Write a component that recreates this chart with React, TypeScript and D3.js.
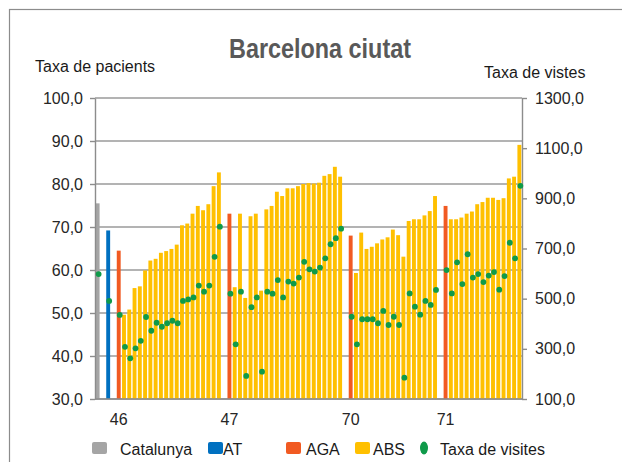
import React, { useEffect, useRef } from 'react';
import * as d3 from 'd3';

// values
const catalunyaValues = [75.5];
const catalunyaVisits = [598];
const atValues = [69.2];
const atVisits = [491];

const groupLabels = ['46', '47', '70', '71'];
const agaValues = [64.5, 73.1, 68.0, 74.9];
const agaVisits = [435, 520, 428, 614];

const absValues = [
  [49.6, 50.8, 55.8, 56.2, 59.9, 62.2, 62.6, 64.0, 64.4, 64.9, 65.9, 70.4, 70.8, 73.1, 74.9, 73.9, 75.3, 79.5, 82.7],
  [56.0, 73.1, 53.5, 72.5, 73.1, 55.2, 74.1, 74.9, 78.2, 77.2, 79.0, 79.0, 79.5, 80.0, 80.2, 80.1, 80.3, 81.9, 82.3, 84.0, 81.7],
  [59.3, 68.7, 64.9, 65.4, 66.2, 67.1, 67.6, 69.4, 68.1, 63.1, 71.4, 71.8, 71.8, 72.7, 73.7, 77.2],
  [71.8, 71.8, 72.2, 73.1, 73.6, 75.3, 75.8, 76.8, 76.8, 76.3, 76.7, 81.3, 81.7, 89.1],
];
const absVisits = [
  [308, 262, 302, 332, 427, 372, 404, 388, 402, 412, 402, 491, 497, 505, 552, 528, 552, 667, 787],
  [318, 528, 192, 466, 505, 209, 528, 520, 574, 505, 568, 560, 584, 647, 617, 608, 624, 661, 717, 741, 779],
  [318, 418, 418, 418, 402, 451, 395, 428, 395, 185, 521, 468, 436, 491, 475, 535],
  [521, 645, 558, 677, 584, 598, 566, 592, 606, 536, 590, 723, 661, 950],
];

const leftTicks = [30, 40, 50, 60, 70, 80, 90, 100];
const rightTicks = [100, 300, 500, 700, 900, 1100, 1300];

const legendItems = [
  { key: 'cat', label: 'Catalunya' },
  { key: 'at', label: 'AT' },
  { key: 'aga', label: 'AGA' },
  { key: 'abs', label: 'ABS' },
  { key: 'dot', label: 'Taxa de visites' },
];

const colors: Record<string, string> = {
  cat: '#a5a5a5',
  at: '#0070c0',
  aga: '#f15a22',
  abs: '#ffc000',
  dot: '#0f9a4a',
};

type Row = { series: string; value: number; visits: number; label: string } | null;

// one category per bar, with an empty slot before each unit group
const rows: Row[] = [];
rows.push({ series: 'cat', value: catalunyaValues[0], visits: catalunyaVisits[0], label: '' });
rows.push(null);
rows.push({ series: 'at', value: atValues[0], visits: atVisits[0], label: '' });
rows.push(null);
groupLabels.forEach((g, gi) => {
  if (gi > 0) rows.push(null);
  rows.push({ series: 'aga', value: agaValues[gi], visits: agaVisits[gi], label: g });
  absValues[gi].forEach((v, k) => {
    rows.push({ series: 'abs', value: v, visits: absVisits[gi][k], label: '' });
  });
});

const FONT = '"Liberation Sans", Arial, sans-serif';

const App = () => {
  const ref = useRef<SVGSVGElement>(null);

  useEffect(() => {
    const width = 622;
    const height = 462;
    const plot = { left: 95, right: 522, top: 98, bottom: 399 };

    const svg = d3.select(ref.current);
    svg.selectAll('*').remove();
    svg.attr('width', width).attr('height', height);

    svg.append('rect').attr('width', width).attr('height', height).attr('fill', '#fff');
    svg.append('rect')
      .attr('x', 9.5).attr('y', 9.5)
      .attr('width', 700).attr('height', 600)
      .attr('fill', 'none').attr('stroke', '#8c8c8c').attr('stroke-width', 1.2);

    const x = d3.scaleBand<number>()
      .domain(d3.range(rows.length))
      .range([plot.left, plot.right])
      .paddingInner(0.26)
      .paddingOuter(0.13);
    const yL = d3.scaleLinear().domain([30, 100]).range([plot.bottom, plot.top]);
    const yR = d3.scaleLinear().domain([100, 1300]).range([plot.bottom, plot.top]);

    const fmt = (d: number) => d3.format('.1f')(d).replace('.', ',');

    // gridlines
    svg.append('g')
      .selectAll('line')
      .data(leftTicks)
      .enter()
      .append('line')
      .attr('x1', plot.left).attr('x2', plot.right)
      .attr('y1', d => yL(d)).attr('y2', d => yL(d))
      .attr('stroke', '#9a9a9a').attr('stroke-width', 1.4);

    // bars
    const bw = x.bandwidth();
    const barRows = rows.map((r, i) => ({ r, i })).filter(d => d.r !== null) as { r: NonNullable<Row>; i: number }[];
    svg.append('g')
      .selectAll('rect')
      .data(barRows)
      .enter()
      .append('rect')
      .attr('x', d => x(d.i)!)
      .attr('y', d => yL(d.r.value))
      .attr('width', bw)
      .attr('height', d => plot.bottom - yL(d.r.value))
      .attr('fill', d => colors[d.r.series]);

    // axes
    const left = svg.append('g')
      .attr('transform', `translate(${plot.left},0)`)
      .call(d3.axisLeft(yL).tickValues(leftTicks).tickSize(5).tickSizeOuter(0).tickPadding(7).tickFormat(d => fmt(+d)));
    const right = svg.append('g')
      .attr('transform', `translate(${plot.right},0)`)
      .call(d3.axisRight(yR).tickValues(rightTicks).tickSize(5).tickSizeOuter(0).tickPadding(8).tickFormat(d => fmt(+d)));
    [left, right].forEach(g => {
      g.selectAll('path,line').attr('stroke', '#8c8c8c').attr('stroke-width', 1.4);
      g.selectAll('text')
        .attr('font-family', FONT).attr('font-size', 16).attr('fill', '#262626');
    });

    svg.append('line')
      .attr('x1', plot.left).attr('x2', plot.right)
      .attr('y1', plot.bottom).attr('y2', plot.bottom)
      .attr('stroke', '#8c8c8c').attr('stroke-width', 1.4);

    // category labels
    svg.append('g')
      .selectAll('text')
      .data(barRows.filter(d => d.r.label))
      .enter()
      .append('text')
      .attr('x', d => x(d.i)! + bw / 2)
      .attr('y', 425)
      .attr('text-anchor', 'middle')
      .attr('font-family', FONT).attr('font-size', 16).attr('fill', '#262626')
      .text(d => d.r.label);

    // visit rate dots (secondary axis)
    svg.append('g')
      .selectAll('circle')
      .data(barRows)
      .enter()
      .append('circle')
      .attr('cx', d => x(d.i)! + bw / 2 + 1)
      .attr('cy', d => yR(d.r.visits))
      .attr('r', 2.9)
      .attr('fill', colors.dot);

    // titles
    svg.append('text')
      .attr('x', 320).attr('y', 58)
      .attr('text-anchor', 'middle')
      .attr('font-family', FONT).attr('font-size', 27).attr('font-weight', 'bold')
      .attr('fill', '#595959')
      .attr('textLength', 182).attr('lengthAdjust', 'spacingAndGlyphs')
      .text('Barcelona ciutat');
    svg.append('text')
      .attr('x', 35).attr('y', 72)
      .attr('font-family', FONT).attr('font-size', 16).attr('fill', '#1a1a1a')
      .text('Taxa de pacients');
    svg.append('text')
      .attr('x', 484).attr('y', 78)
      .attr('font-family', FONT).attr('font-size', 16).attr('fill', '#1a1a1a')
      .text('Taxa de vistes');

    // legend
    const markerX = [92, 208, 286, 355, 424];
    const labelX = [120, 223, 306, 373, 440];
    const lg = svg.append('g');
    legendItems.forEach((item, k) => {
      if (item.key === 'dot') {
        lg.append('ellipse')
          .attr('cx', markerX[k]).attr('cy', 448)
          .attr('rx', 4).attr('ry', 6.5)
          .attr('fill', colors.dot);
      } else {
        lg.append('rect')
          .attr('x', markerX[k]).attr('y', 442)
          .attr('width', 15).attr('height', 12).attr('rx', 2)
          .attr('fill', colors[item.key]);
      }
      lg.append('text')
        .attr('x', labelX[k]).attr('y', 455)
        .attr('font-family', FONT).attr('font-size', 16).attr('fill', '#1a1a1a')
        .text(item.label);
    });
  }, []);

  return (
    <svg ref={ref} style={{ position: 'absolute', left: 0, top: 0, display: 'block' }}></svg>
  );
};

export default App;
